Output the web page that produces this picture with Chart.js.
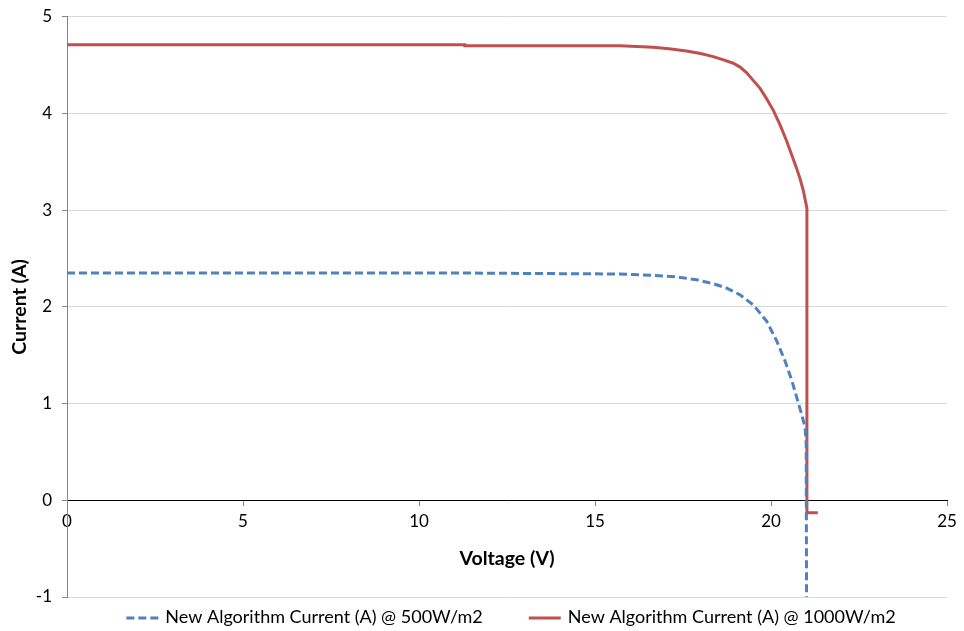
<!DOCTYPE html>
<html lang="en">
<head>
  <meta charset="UTF-8">
  <title>I-V curve</title>
  <script src="https://cdn.jsdelivr.net/npm/chart.js"></script>
  <style>
    html, body { margin: 0; padding: 0; background: #fff; }
    #wrap { width: 964px; height: 631px; }
  </style>
</head>
<body>
  <div id="wrap"><canvas id="iv-chart"></canvas></div>
  <script>
    // 500 W/m2 series
    const voltage500 = [0, 5.8, 11.3, 15.7, 16.66, 17.32, 17.89, 18.36, 18.74, 19.12, 19.5, 19.88, 20.16, 20.4, 20.59, 20.73, 20.87, 20.97, 21.0, 21.01];
    const current500 = [2.35, 2.35, 2.35, 2.34, 2.327, 2.31, 2.28, 2.24, 2.195, 2.125, 2.02, 1.85, 1.65, 1.44, 1.24, 1.065, 0.89, 0.75, 0.58, -1.05];

    // 1000 W/m2 series
    const voltage1000 = [0, 5.8, 11.3, 11.3, 15.7, 16.66, 17.1, 17.6, 18.0, 18.36, 18.65, 18.93, 19.12, 19.31, 19.5, 19.69, 19.88, 20.07, 20.26, 20.45, 20.6, 20.73, 20.83, 20.92, 21.02, 21.02, 21.33];
    const current1000 = [4.71, 4.71, 4.71, 4.70, 4.70, 4.685, 4.67, 4.646, 4.62, 4.588, 4.555, 4.52, 4.48, 4.42, 4.34, 4.26, 4.15, 4.03, 3.88, 3.71, 3.56, 3.43, 3.32, 3.20, 3.02, -0.13, -0.13];

    const xTicks = [0, 5, 10, 15, 20, 25];
    const yTicks = [-1, 0, 1, 2, 3, 4, 5];

    const seriesNames = ['New Algorithm Current (A) @ 500W/m2', 'New Algorithm Current (A) @ 1000W/m2'];

    const toPoints = (xs, ys) => xs.map((x, i) => ({ x: x, y: ys[i] }));

    const fontFamily = 'Lato, "Open Sans", sans-serif';

    // Excel style legend under the plot: line sample + label, wide gap between entries
    const bottomLegend = {
      id: 'bottomLegend',
      afterDraw(chart, args, opts) {
        const ctx = chart.ctx;
        const sets = chart.data.datasets;
        ctx.save();
        ctx.font = opts.size + 'px ' + opts.family;
        const widths = sets.map(ds => opts.sample + opts.textGap + ctx.measureText(ds.label).width);
        const total = widths.reduce((a, b) => a + b, 0) + opts.itemGap * (sets.length - 1);
        let x = opts.centerX - total / 2;
        const y = chart.height - opts.fromBottom;
        sets.forEach((ds, i) => {
          ctx.beginPath();
          ctx.setLineDash(ds.borderDash || []);
          ctx.strokeStyle = ds.borderColor;
          ctx.lineWidth = ds.borderWidth;
          ctx.moveTo(x, y + 1);
          ctx.lineTo(x + opts.sample, y + 1);
          ctx.stroke();
          ctx.setLineDash([]);
          ctx.fillStyle = opts.color;
          ctx.textAlign = 'left';
          ctx.textBaseline = 'middle';
          ctx.fillText(ds.label, x + opts.sample + opts.textGap, y);
          x += widths[i] + opts.itemGap;
        });
        ctx.restore();
      }
    };

    new Chart(document.getElementById('iv-chart'), {
      type: 'scatter',
      data: {
        datasets: [{
          label: seriesNames[0],
          data: toPoints(voltage500, current500),
          showLine: true,
          borderColor: '#4f81bd',
          backgroundColor: '#4f81bd',
          borderWidth: 3,
          borderDash: [8, 4],
          pointRadius: 0,
          tension: 0
        }, {
          label: seriesNames[1],
          data: toPoints(voltage1000, current1000),
          showLine: true,
          borderColor: '#c0504d',
          backgroundColor: '#c0504d',
          borderWidth: 3,
          pointRadius: 0,
          tension: 0
        }]
      },
      options: {
        responsive: true,
        maintainAspectRatio: false,
        animation: false,
        layout: { padding: { top: 15, right: 17, left: 0, bottom: 34 } },
        plugins: {
          legend: { display: false },
          tooltip: { enabled: false },
          bottomLegend: {
            family: fontFamily,
            size: 18,
            color: '#000',
            sample: 32,
            textGap: 7,
            itemGap: 46,
            centerX: 511,
            fromBottom: 14
          }
        },
        scales: {
          x: {
            type: 'linear',
            position: { y: 0 },
            min: 0,
            max: 25,
            afterBuildTicks: (scale) => { scale.ticks = xTicks.map(v => ({ value: v })); },
            ticks: { color: '#000', padding: 6, font: { family: fontFamily, size: 17 } },
            grid: { drawOnChartArea: false, drawTicks: true, tickLength: 5, tickColor: '#868686' },
            border: { color: '#000', width: 1 },
            title: {
              display: true,
              text: 'Voltage (V)',
              color: '#000',
              padding: { top: 9, bottom: 0 },
              font: { family: fontFamily, size: 19.5, weight: 'bold' }
            }
          },
          y: {
            type: 'linear',
            min: -1,
            max: 5,
            afterBuildTicks: (scale) => { scale.ticks = yTicks.map(v => ({ value: v })); },
            afterFit: (scale) => { scale.width = 67; },
            ticks: { color: '#000', padding: 10, font: { family: fontFamily, size: 17, lineHeight: 0.8 } },
            grid: { color: '#d9d9d9', tickLength: 5, tickColor: '#868686' },
            border: { color: '#868686', width: 1 },
            title: {
              display: true,
              text: 'Current (A)',
              color: '#000',
              padding: { top: 8, bottom: 0 },
              font: { family: fontFamily, size: 19.5, weight: 'bold' }
            }
          }
        }
      },
      plugins: [bottomLegend]
    });
  </script>
</body>
</html>
